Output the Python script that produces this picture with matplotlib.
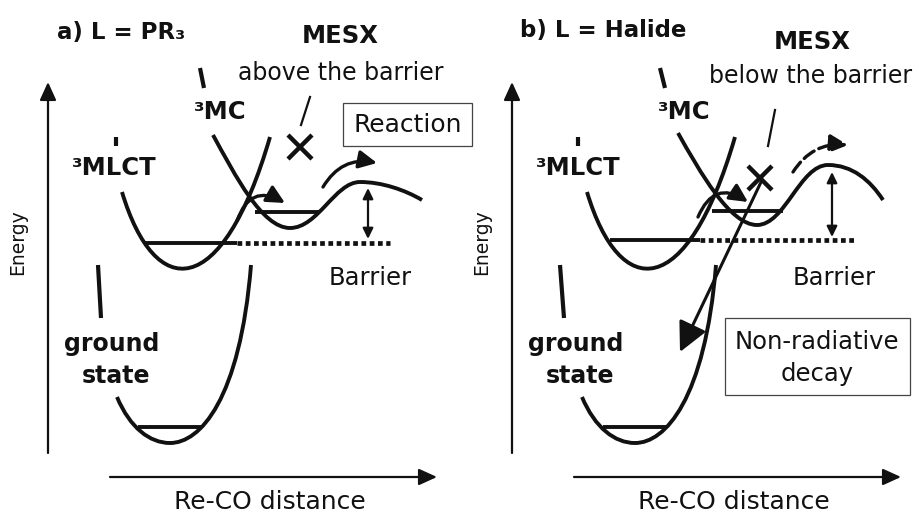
import matplotlib
matplotlib.use('Agg')
import matplotlib.pyplot as plt
from matplotlib.path import Path
from matplotlib.patches import PathPatch, FancyArrowPatch, Rectangle

plt.rcParams['font.family'] = ['DejaVu Sans']

# everything is laid out in picture pixels (y grows downward)
DX = 465  # shift of panel b relative to panel a

# Bezier control points of the potential curves, panel a
mlct_a = [(122, 192), (155, 302), (222, 302), (270, 137)]
mc_a = [(213, 135), (235, 175), (262, 228), (290, 228),
        (318, 228), (335, 182), (360, 182),
        (382, 182), (405, 190), (422, 200)]
gs_a = [(117, 397), (130, 428), (150, 443), (170, 443),
        (200, 443), (240, 400), (251, 265)]
# panel b: 3MC has a higher barrier
mc_b = [(678, 133), (700, 172), (730, 225), (757, 225),
        (785, 225), (800, 165), (828, 165),
        (852, 165), (870, 180), (883, 200)]

# vibrational levels: (x0, x1, y)
mlct_level = [(145, 237, 243), (610, 700, 240)]
mc_level = [(255, 320, 212), (712, 783, 211)]
gs_level = [(138, 202, 427), (603, 667, 427)]
barrier_dots = [(237, 390, 243), (700, 857, 240)]
barrier_arrow = [(368, 188, 239), (832, 172, 237)]

# curved arrows: start, end, bend, line style
hops = [((237, 221), (285, 203), -0.6, '-'),
        ((698, 217), (748, 202), -0.6, '-'),
        ((323, 187), (377, 163), -0.35, '-'),
        ((793, 172), (848, 145), -0.3, '--')]

mesx_pos = [(300, 147), (760, 178)]
mesx_ptr = [((310, 97), (301, 125)), ((775, 110), (768, 146))]

ticks = [((200, 68), (204, 88)), ((116, 137), (116, 146)), ((98, 265), (101, 318)),
         ((660, 68), (665, 88)), ((578, 137), (578, 146)), ((560, 265), (564, 318))]


def shift(pts, dx):
    return [(x + dx, y) for x, y in pts]


def bez(pts):
    codes = [Path.MOVETO] + [Path.CURVE4] * (len(pts) - 1)
    return Path(pts, codes)


fig = plt.figure(figsize=(9.2, 5.14), dpi=100)
ax = fig.add_axes([0, 0, 1, 1])
ax.set_xlim(0, 920)
ax.set_ylim(514, 0)
ax.axis('off')

LW = 2.8
K = '#111111'

curves = [mlct_a, mc_a, gs_a, shift(mlct_a, DX), mc_b, shift(gs_a, DX)]
for c in curves:
    ax.add_patch(PathPatch(bez(c), fill=False, lw=LW, ec=K, capstyle='butt'))

for x0, x1, y in mlct_level + mc_level + gs_level:
    ax.plot([x0, x1], [y, y], color=K, lw=LW, solid_capstyle='butt')
for x0, x1, y in barrier_dots:
    ax.plot([x0, x1], [y, y], color=K, lw=3.4, ls=(0, (1.0, 0.75)), dash_capstyle='butt')
for x, y0, y1 in barrier_arrow:
    ax.annotate('', xy=(x, y0), xytext=(x, y1),
                arrowprops=dict(arrowstyle='<|-|>,head_length=0.45,head_width=0.22',
                                mutation_scale=14, lw=1.6, color=K, shrinkA=0, shrinkB=0))

for (p, q) in ticks:
    ax.plot([p[0], q[0]], [p[1], q[1]], color=K, lw=3.0, solid_capstyle='butt')

for a, b, rad, ls in hops:
    ax.add_patch(FancyArrowPatch(a, b, connectionstyle='arc3,rad=%.2f' % rad,
                                 arrowstyle='-|>,head_length=0.6,head_width=0.3',
                                 mutation_scale=18, lw=2.4, color=K, ls=ls,
                                 shrinkA=0, shrinkB=0))

# MESX crosses and pointers
for x, y in mesx_pos:
    ax.plot([x - 12, x + 12], [y - 12, y + 12], color=K, lw=3.2, solid_capstyle='butt')
    ax.plot([x - 12, x + 12], [y + 12, y - 12], color=K, lw=3.2, solid_capstyle='butt')
for p, q in mesx_ptr:
    ax.plot([p[0], q[0]], [p[1], q[1]], color=K, lw=1.6)

# non-radiative decay arrow (panel b)
ax.annotate('', xy=(680, 352), xytext=(762, 180),
            arrowprops=dict(arrowstyle='-|>,head_length=0.6,head_width=0.3',
                            mutation_scale=30, lw=2.2, color=K, shrinkA=0, shrinkB=0))

# axes arrows and labels shared by both panels
for dx in (0, DX - 1):
    ax.annotate('', xy=(48 + dx, 82), xytext=(48 + dx, 453),
                arrowprops=dict(arrowstyle='-|>,head_length=0.55,head_width=0.25',
                                mutation_scale=20, lw=1.6, color=K, shrinkA=0, shrinkB=0))
    ax.annotate('', xy=(437 + dx, 477), xytext=(110 + dx, 477),
                arrowprops=dict(arrowstyle='-|>,head_length=0.55,head_width=0.25',
                                mutation_scale=20, lw=1.6, color=K, shrinkA=0, shrinkB=0))
    ax.text(18 + dx, 242, 'Energy', rotation=90, ha='center', va='center', fontsize=13.5, color=K)
    ax.text(270 + dx, 502, 'Re-CO distance', ha='center', va='center', fontsize=18, color=K)
    ax.text(370 + dx, 278, 'Barrier', ha='center', va='center', fontsize=17.5, color=K)
    ax.text(114 + dx, 168, '³MLCT', ha='center', va='center', fontsize=17.5, weight='bold', color=K)
    ax.text(220 + dx, 112, '³MC', ha='center', va='center', fontsize=17.5, weight='bold', color=K)
    ax.text(112 + dx, 344, 'ground', ha='center', va='center', fontsize=17, weight='bold', color=K)
    ax.text(116 + dx, 376, 'state', ha='center', va='center', fontsize=17, weight='bold', color=K)

ax.text(57, 32, 'a) L = PR₃', ha='left', va='center', fontsize=16.5, weight='bold', color=K)
ax.text(520, 30, 'b) L = Halide', ha='left', va='center', fontsize=16.5, weight='bold', color=K)
ax.text(340, 36, 'MESX', ha='center', va='center', fontsize=17.5, weight='bold', color=K)
ax.text(341, 73, 'above the barrier', ha='center', va='center', fontsize=17, color=K)
ax.text(812, 42, 'MESX', ha='center', va='center', fontsize=17.5, weight='bold', color=K)
ax.text(811, 76, 'below the barrier', ha='center', va='center', fontsize=17, color=K)

ax.add_patch(Rectangle((343, 103), 129, 43, fill=False, ec='#444444', lw=0.9))
ax.text(408, 125, 'Reaction', ha='center', va='center', fontsize=18, color=K)
ax.add_patch(Rectangle((725, 318), 185, 77, fill=False, ec='#444444', lw=0.9))
ax.text(817, 342, 'Non-radiative', ha='center', va='center', fontsize=17.5, color=K)
ax.text(817, 374, 'decay', ha='center', va='center', fontsize=17.5, color=K)

fig.savefig('out.png', dpi=100)
